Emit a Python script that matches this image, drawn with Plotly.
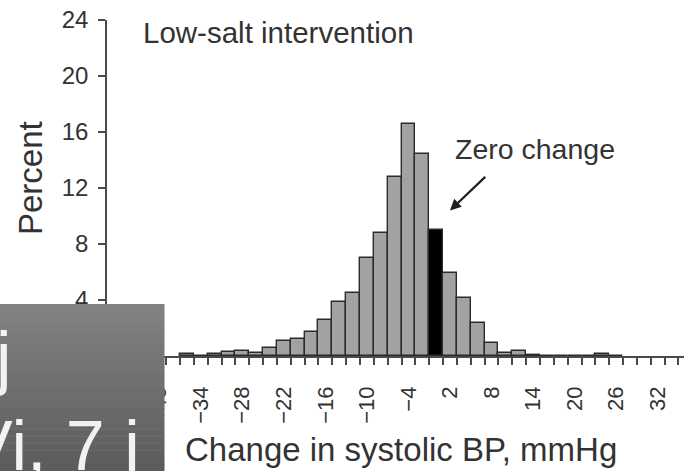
import plotly.graph_objects as go

# Histogram of change in systolic BP (2 mmHg bins, centred on even values)
bin_centers = [-36, -34, -32, -30, -28, -26, -24, -22, -20, -18, -16, -14, -12,
               -10, -8, -6, -4, -2, 0, 2, 4, 6, 8, 10, 12, 14, 16, 18, 20, 22, 24, 26]
percent = [0.15, 0.0, 0.12, 0.3, 0.37, 0.22, 0.58, 1.07, 1.21, 1.72, 2.57, 3.85, 4.5,
           6.98, 8.76, 12.8, 16.55, 14.4, 9.0, 5.95, 4.12, 2.33, 0.95, 0.19, 0.37, 0.07,
           0.0, 0.0, 0.0, 0.0, 0.12, 0.0]
x_tick_vals = [-40, -34, -28, -22, -16, -10, -4, 2, 8, 14, 20, 26, 32]
y_tick_vals = [0, 4, 8, 12, 16, 20, 24]

FONT = "Liberation Sans, Arial, sans-serif"
TXT = "#333333"
AX = "#4a4a4a"

W, H = 684, 471
L, R, T, B = 107, 0, 20, 115
XR = [-47.55, 35.8]
YR = [0, 24]


def px_to_paper_x(px):
    return (px - L) / (W - L - R)


def px_to_paper_y(py):
    return (H - B - py) / (H - T - B)


bar_colors = ["#000000" if c == 0 else "#a2a2a2" for c in bin_centers]

fig = go.Figure(go.Bar(
    x=bin_centers,
    y=percent,
    width=2,
    marker=dict(color=bar_colors, line=dict(color="#2b2b2b", width=1.4)),
    showlegend=False,
))

fig.update_layout(
    width=W, height=H,
    margin=dict(l=L, r=R, t=T, b=B, pad=0),
    paper_bgcolor="white",
    plot_bgcolor="white",
    font=dict(family=FONT, color=TXT),
    bargap=0,
)

fig.update_xaxes(
    range=XR,
    showgrid=False, zeroline=False,
    showline=True, linecolor=AX, linewidth=1.5,
    tickmode="array", tickvals=x_tick_vals,
    ticks="outside", ticklen=20, tickcolor="rgba(0,0,0,0)",
    tickangle=-90,
    tickfont=dict(size=22, color=TXT, family=FONT),
    minor=dict(tickmode="array", tickvals=list(range(-47, 37, 2)),
               ticks="outside", ticklen=7, tickwidth=1.5, tickcolor=AX),
)

fig.update_yaxes(
    range=YR,
    showgrid=False, zeroline=False,
    showline=True, linecolor=AX, linewidth=1.5,
    tickmode="array", tickvals=y_tick_vals,
    ticks="outside", ticklen=7, tickwidth=1.5, tickcolor=AX,
    ticklabelstandoff=5,
    tickfont=dict(size=24, color=TXT, family=FONT),
)

annotations = [
    dict(text="Low-salt intervention", xref="paper", yref="paper",
         x=px_to_paper_x(141), y=px_to_paper_y(33), xanchor="left", yanchor="middle",
         showarrow=False, font=dict(size=29.5, color=TXT, family=FONT)),
    dict(text="Zero change", xref="paper", yref="paper",
         x=px_to_paper_x(453), y=px_to_paper_y(149), xanchor="left", yanchor="middle",
         showarrow=False, font=dict(size=28.5, color=TXT, family=FONT)),
    # arrow pointing at the zero-change bar
    dict(text="", x=2.0, y=10.4, xref="x", yref="y",
         showarrow=True, ax=36.7, ay=-35, arrowhead=2, arrowsize=1,
         arrowwidth=2.2, arrowcolor="#1e1e1e", standoff=0),
    dict(text="Change in systolic BP, mmHg", xref="paper", yref="paper",
         x=px_to_paper_x(183), y=px_to_paper_y(450), xanchor="left", yanchor="middle",
         showarrow=False, font=dict(size=33, color=TXT, family=FONT)),
    dict(text="Percent", xref="paper", yref="paper", textangle=-90,
         x=px_to_paper_x(30), y=px_to_paper_y(178), xanchor="center", yanchor="middle",
         showarrow=False, font=dict(size=33, color=TXT, family=FONT)),
]

# Grey caption panel in the lower-left corner (vertical gradient in strips)
shapes = []
top_px, bot_px, right_px = 304, 471, 164.5
n = 24
c0, c1 = (130, 130, 130), (92, 92, 92)
for i in range(n):
    y0 = top_px + (bot_px - top_px) * i / n
    y1 = top_px + (bot_px - top_px) * (i + 1) / n + 0.6
    t = i / (n - 1)
    col = tuple(round(a + (b - a) * t) for a, b in zip(c0, c1))
    shapes.append(dict(
        type="rect", xref="paper", yref="paper", layer="above",
        x0=px_to_paper_x(0), x1=px_to_paper_x(right_px),
        y0=px_to_paper_y(min(y1, bot_px)), y1=px_to_paper_y(y0),
        fillcolor="rgb(%d,%d,%d)" % col, line=dict(width=0),
    ))

# Caption lettering on the panel, running off its left and bottom edges
annotations += [
    dict(text="j", xref="paper", yref="paper",
         x=px_to_paper_x(-8), y=px_to_paper_y(357), xanchor="left", yanchor="middle",
         showarrow=False, font=dict(size=70, color="#f2f2f2", family=FONT)),
    dict(text="Vi, 7 j", xref="paper", yref="paper",
         x=px_to_paper_x(-36), y=px_to_paper_y(446), xanchor="left", yanchor="middle",
         showarrow=False, font=dict(size=70, color="#f2f2f2", family=FONT)),
]

fig.update_layout(annotations=annotations, shapes=shapes)

fig.write_html("out.html")
